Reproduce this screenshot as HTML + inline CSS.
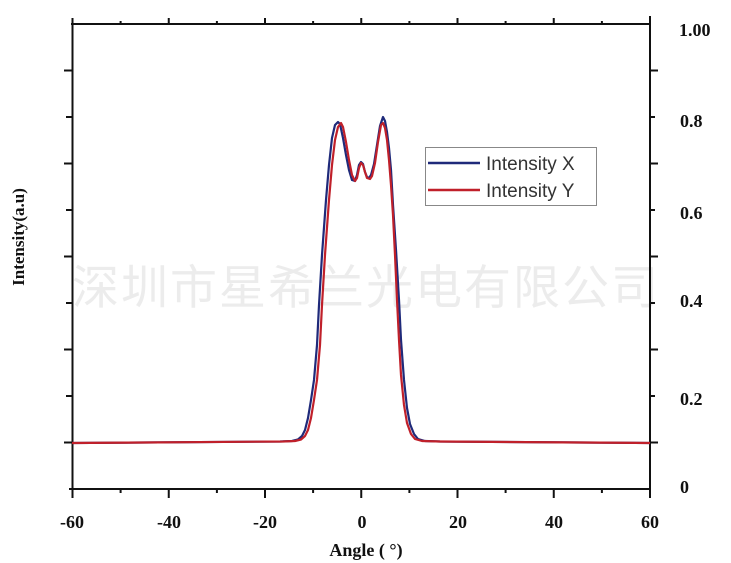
<!DOCTYPE html>
<html><head><meta charset="utf-8"><style>
body{margin:0;background:#fff;}
svg{display:block;}
</style></head><body>
<svg width="731" height="563" viewBox="0 0 731 563" xmlns="http://www.w3.org/2000/svg">
<rect width="731" height="563" fill="#fff"/>
<text x="366" y="304" text-anchor="middle" font-family="'Noto Sans CJK SC','WenQuanYi Zen Hei',sans-serif" font-size="47" fill="#ececec" letter-spacing="2">深圳市星希兰光电有限公司</text>
<g stroke="#111" stroke-width="2" fill="none">
<line x1="72.5" y1="18" x2="72.5" y2="491"/>
<line x1="650" y1="16" x2="650" y2="491"/>
<line x1="71" y1="24" x2="651" y2="24"/>
<line x1="69" y1="489" x2="651" y2="489"/>
</g>
<g stroke="#111" stroke-width="2">
<line x1="72.5" y1="489" x2="72.5" y2="498"/>
<line x1="168.75" y1="489" x2="168.75" y2="498"/>
<line x1="265" y1="489" x2="265" y2="498"/>
<line x1="361.25" y1="489" x2="361.25" y2="498"/>
<line x1="457.5" y1="489" x2="457.5" y2="498"/>
<line x1="553.75" y1="489" x2="553.75" y2="498"/>
<line x1="650" y1="489" x2="650" y2="498"/>
<line x1="120.6" y1="489" x2="120.6" y2="493"/>
<line x1="216.9" y1="489" x2="216.9" y2="493"/>
<line x1="313.1" y1="489" x2="313.1" y2="493"/>
<line x1="409.4" y1="489" x2="409.4" y2="493"/>
<line x1="505.6" y1="489" x2="505.6" y2="493"/>
<line x1="601.9" y1="489" x2="601.9" y2="493"/>
<line x1="168.75" y1="24" x2="168.75" y2="18"/>
<line x1="265" y1="24" x2="265" y2="18"/>
<line x1="361.25" y1="24" x2="361.25" y2="18"/>
<line x1="457.5" y1="24" x2="457.5" y2="18"/>
<line x1="553.75" y1="24" x2="553.75" y2="18"/>
<line x1="120.6" y1="24" x2="120.6" y2="21"/>
<line x1="216.9" y1="24" x2="216.9" y2="21"/>
<line x1="313.1" y1="24" x2="313.1" y2="21"/>
<line x1="409.4" y1="24" x2="409.4" y2="21"/>
<line x1="505.6" y1="24" x2="505.6" y2="21"/>
<line x1="601.9" y1="24" x2="601.9" y2="21"/>
<line x1="64" y1="70.5" x2="72" y2="70.5"/>
<line x1="66" y1="117" x2="72" y2="117"/>
<line x1="64" y1="163.5" x2="72" y2="163.5"/>
<line x1="66" y1="210" x2="72" y2="210"/>
<line x1="64" y1="256.5" x2="72" y2="256.5"/>
<line x1="66" y1="303" x2="72" y2="303"/>
<line x1="64" y1="349.5" x2="72" y2="349.5"/>
<line x1="66" y1="396" x2="72" y2="396"/>
<line x1="64" y1="442.5" x2="72" y2="442.5"/>
<line x1="650" y1="70.5" x2="658" y2="70.5"/>
<line x1="650" y1="117" x2="655" y2="117"/>
<line x1="650" y1="163.5" x2="658" y2="163.5"/>
<line x1="650" y1="210" x2="655" y2="210"/>
<line x1="650" y1="256.5" x2="658" y2="256.5"/>
<line x1="650" y1="303" x2="655" y2="303"/>
<line x1="650" y1="349.5" x2="658" y2="349.5"/>
<line x1="650" y1="396" x2="655" y2="396"/>
<line x1="650" y1="442.5" x2="658" y2="442.5"/>
</g>
<polyline fill="none" stroke="#1f2a7a" stroke-width="2.2" stroke-linejoin="round" points="72,443 280,441.5 292,441 298,439.5 302,436 305,430 308,418 311,400 314,380 317,345 319,305 322,255 326,200 329,165 332,138 335,125 338,122 340,124 343,138 346,155 349,170 352,180 355,181 357,175 359,165 361,162 363,164 365,172 367,177 369,178 371,175 374,164 377,145 380,126 383,117 385,121 387,132 389,148 391,170 393,205 396,250 399,300 401,340 404,380 407,408 410,424 414,434 418,439 425,441 440,441.5 650,443"/>
<polyline fill="none" stroke="#c0202a" stroke-width="2.2" stroke-linejoin="round" points="72,443 283,441.5 295,441 301,439.5 305,436 308,430 311,418 314,400 317,380 320,345 322,305 325,255 329,200 332,165 335,140 338,127 341,123 343,127 346,142 349,160 352,175 355,181 357,178 359,168 361,163 363,165 365,172 367,178 370,179 372,176 375,163 378,142 381,125 383,123 385,128 387,140 389,160 391,185 393,215 395,255 397,300 399,340 401,375 404,405 407,423 411,434 415,439 422,441 440,441.5 650,443"/>
<rect x="425.5" y="147.5" width="171" height="58" fill="#fff" stroke="#888" stroke-width="1"/>
<line x1="428" y1="163" x2="480" y2="163" stroke="#1f2a7a" stroke-width="2.5"/>
<line x1="428" y1="190" x2="480" y2="190" stroke="#c0202a" stroke-width="2.5"/>
<text x="486" y="170" font-family="'Liberation Sans',sans-serif" font-size="19" fill="#333">Intensity X</text>
<text x="486" y="197" font-family="'Liberation Sans',sans-serif" font-size="19" fill="#333">Intensity Y</text>
<g font-family="'Liberation Serif',serif" font-weight="bold" font-size="18" fill="#111" text-anchor="middle">
<text x="72" y="528">-60</text>
<text x="169" y="528">-40</text>
<text x="265" y="528">-20</text>
<text x="362" y="528">0</text>
<text x="458" y="528">20</text>
<text x="554" y="528">40</text>
<text x="650" y="528">60</text>
</g>
<g font-family="'Liberation Serif',serif" font-weight="bold" font-size="18" fill="#111">
<text x="679" y="36">1.00</text>
<text x="680" y="127">0.8</text>
<text x="680" y="219">0.6</text>
<text x="680" y="307">0.4</text>
<text x="680" y="405">0.2</text>
<text x="680" y="493">0</text>
</g>
<text x="366" y="556" text-anchor="middle" font-family="'Liberation Serif',serif" font-weight="bold" font-size="18" fill="#111">Angle ( °)</text>
<text transform="translate(24,237) rotate(-90)" text-anchor="middle" font-family="'Liberation Serif',serif" font-weight="bold" font-size="17" fill="#111">Intensity(a.u)</text>
</svg>
</body></html>
